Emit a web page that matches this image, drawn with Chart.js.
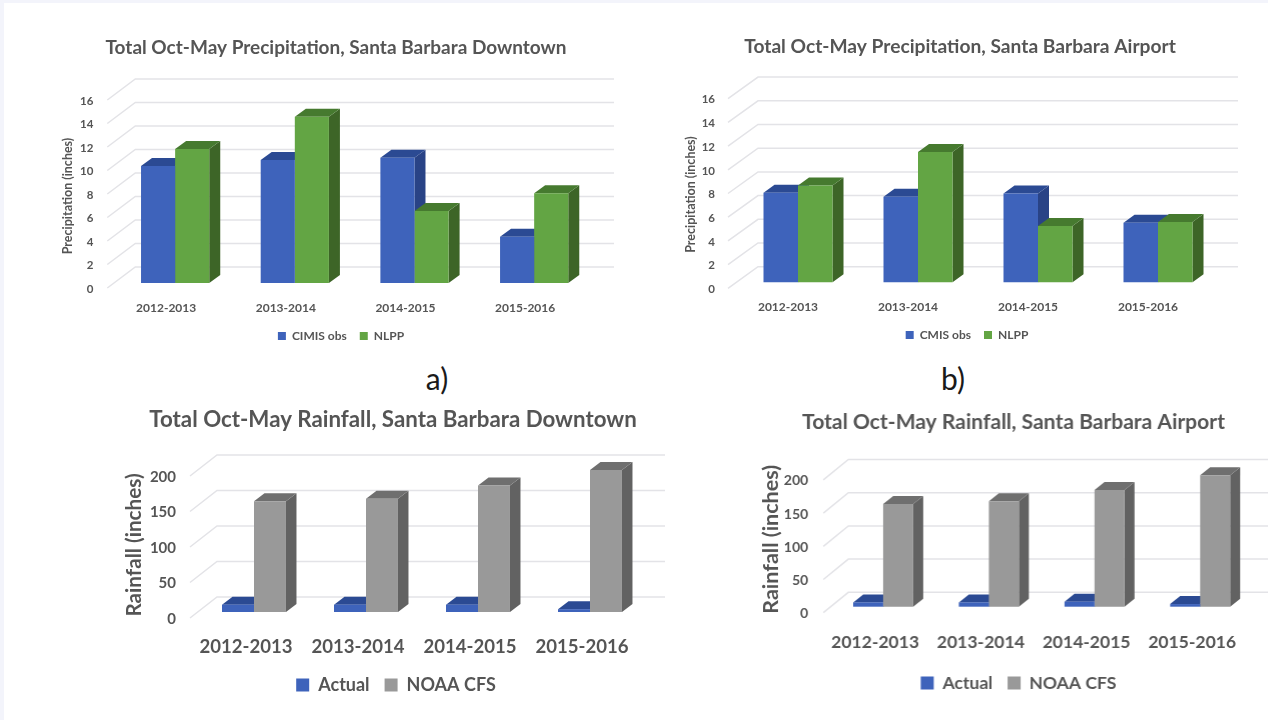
<!DOCTYPE html>
<html>
<head>
<meta charset="utf-8">
<title>Total Oct-May Precipitation and Rainfall, Santa Barbara</title>
<script src="https://cdn.jsdelivr.net/npm/chart.js@4"></script>
<style>
  html, body { margin: 0; padding: 0; width: 1268px; height: 720px; overflow: hidden; background: #f3f4fb; }
  #sheet { position: absolute; left: 4px; top: 3px; width: 1264px; height: 717px; background: #fff; }
  canvas { position: absolute; filter: blur(0.45px); }
  .tag { position: absolute; font: 30px Lato, sans-serif; color: #1a1a1a; transform: translate(-50%, -50%); }
</style>
</head>
<body>
<div id="sheet"></div>
<span class="tag" style="left:437px;top:378px">a)</span>
<span class="tag" style="left:953px;top:378px">b)</span>
<script>
// Temporadas (eje x de las cuatro gráficas)
const seasons = ['2012-2013', '2013-2014', '2014-2015', '2015-2016'];

// a) precipitación, Downtown
const downtownObs  = [9.96, 10.47, 10.66, 3.94];
const downtownNlpp = [11.4, 14.15, 6.13, 7.63];
// b) precipitación, Airport
const airportObs  = [7.56, 7.22, 7.5, 5.03];
const airportNlpp = [8.16, 11.0, 4.75, 5.09];
// c) lluvia, Downtown
const downtownActual = [10.3, 10.3, 10.3, 4];
const downtownCfs    = [156, 159.6, 178, 200];
// d) lluvia, Airport
const airportActual = [6.5, 6.5, 7.5, 4];
const airportCfs    = [154.6, 158.7, 175.7, 198];

const INK = '#555555';
const GRID = '#e3e3e7';
const BLUE  = { front: '#3e63bb', top: '#2b4a93', side: '#294386' };
const GREEN = { front: '#63a544', top: '#467a2f', side: '#3d6527' };
const GRAY  = { front: '#999999', top: '#6f6f6f', side: '#626262' };

// Caras superior y lateral de las barras + pared del fondo
const box3d = {
  id: 'box3d',
  afterLayout(chart) {
    const g = chart.options.plugins.box3d;
    const cv = chart.canvas.offsetLeft, ct = chart.canvas.offsetTop;
    const t = chart.titleBlock;
    t.left = g.titleAt[0] - cv - chart.width; t.right = g.titleAt[0] - cv + chart.width;
    t.top = g.titleAt[1] - ct - g.titleFont * 0.6;
    const l = chart.legend;
    l.left = g.legendAt[0] - cv - chart.width; l.right = g.legendAt[0] - cv + chart.width;
    l.top = g.legendAt[1] - ct - g.legendPad - g.legendFont / 2;
    const ys = chart.scales.y;
    ys.top += g.axisTitleShift; ys.bottom += g.axisTitleShift;
  },
  beforeDatasetsDraw(chart) {
    const g = chart.options.plugins.box3d;
    const { ctx, chartArea: area } = chart;
    const ys = chart.scales.y;
    ctx.save();
    ctx.strokeStyle = GRID;
    ctx.lineWidth = 1.5;
    ys.ticks.forEach((tick) => {
      const y = ys.getPixelForValue(tick.value);
      ctx.beginPath();
      ctx.moveTo(area.left - g.front[0], y + g.front[1]);
      ctx.lineTo(area.left + g.wall[0], y + g.wall[1]);
      ctx.lineTo(area.right + g.wall[0], y + g.wall[1]);
      ctx.stroke();
    });
    chart.data.datasets.forEach((ds, di) => {
      const c = g.colors[di];
      chart.getDatasetMeta(di).data.forEach((bar) => {
        const l = bar.x - bar.width / 2, r = bar.x + bar.width / 2;
        const top = bar.y, base = bar.base;
        const [dx, dy] = g.depth;
        ctx.fillStyle = c.side;
        ctx.beginPath();
        ctx.moveTo(r, top); ctx.lineTo(r + dx, top + dy);
        ctx.lineTo(r + dx, base + dy); ctx.lineTo(r, base);
        ctx.fill();
        ctx.fillStyle = c.top;
        ctx.beginPath();
        ctx.moveTo(l, top); ctx.lineTo(l + dx, top + dy);
        ctx.lineTo(r + dx, top + dy); ctx.lineTo(r, top);
        ctx.fill();
      });
    });
    ctx.restore();
  }
};

function crearGrafica(o) {
  const cv = document.createElement('canvas');
  const canvasRight = o.area.right + o.wall[0] + 2;
  const w = canvasRight - o.canvasX;
  const h = o.canvasBottom - o.canvasY;
  cv.style.left = o.canvasX + 'px';
  cv.style.top = o.canvasY + 'px';
  cv.style.width = w + 'px';
  cv.style.height = h + 'px';
  cv.width = w; cv.height = h;
  document.body.appendChild(cv);

  const legendH = o.legendFont + o.legendPad + 10;
  const font = (size) => ({ family: 'Lato', size, weight: 'bold' });

  new Chart(cv, {
    type: 'bar',
    data: {
      labels: seasons,
      datasets: [
        { label: o.names[0], data: o.series[0], backgroundColor: o.colors[0].front, borderWidth: 0, clip: false },
        { label: o.names[1], data: o.series[1], backgroundColor: o.colors[1].front, borderWidth: 0, clip: false }
      ]
    },
    options: {
      responsive: false,
      animation: false,
      events: [],
      layout: { padding: { left: 0, top: 0, bottom: 0, right: canvasRight - o.area.right } },
      datasets: { bar: { categoryPercentage: o.barShare, barPercentage: 1 } },
      scales: {
        x: {
          grid: { display: false, drawTicks: false },
          border: { display: false },
          afterFit: (s) => { s.height = o.canvasBottom - o.area.bottom - legendH; },
          ticks: {
            autoSkip: false, maxRotation: 0, color: INK, font: font(o.xFont),
            padding: o.xPad, labelOffset: o.xShift
          }
        },
        y: {
          min: 0, max: o.yMax,
          grid: { display: false, drawTicks: false },
          border: { display: false },
          afterFit: (s) => { s.width = o.area.left - o.canvasX; },
          title: { display: true, text: o.yTitle, color: INK, font: font(o.yTitleFont), padding: 0 },
          ticks: {
            stepSize: o.yStep, color: INK, font: font(o.yFont),
            padding: o.yPad, labelOffset: o.front[1] + 1
          }
        }
      },
      plugins: {
        title: {
          display: true, text: o.title, color: INK, font: font(o.titleFont),
          padding: { top: 0, bottom: o.area.top - o.canvasY - o.titleFont * 1.2 }
        },
        legend: {
          position: 'bottom',
          labels: {
            color: INK, font: font(o.legendFont), boxWidth: o.legendBox, boxHeight: o.legendBox,
            padding: o.legendPad
          }
        },
        tooltip: { enabled: false },
        box3d: {
          front: o.front, wall: o.wall, depth: o.depth, colors: o.colors,
          titleAt: o.titleAt, titleFont: o.titleFont,
          legendAt: o.legendAt, legendFont: o.legendFont, legendPad: o.legendPad,
          axisTitleShift: o.axisTitleShift
        }
      }
    },
    plugins: [box3d]
  });
}

crearGrafica({
  title: 'Total Oct-May Precipitation, Santa Barbara Downtown', titleFont: 19, titleAt: [336, 48],
  names: ['CIMIS obs', 'NLPP'], series: [downtownObs, downtownNlpp], colors: [BLUE, GREEN],
  yTitle: 'Precipitation (inches)', yMax: 16, yStep: 2,
  canvasX: 60, canvasY: 32, canvasBottom: 362,
  area: { left: 115.3, right: 594, top: 95, bottom: 283 },
  front: [8, 5], wall: [20, -16], depth: [11, -8], barShare: 0.57,
  xFont: 12, xPad: 18, xShift: -9, yFont: 11.5, yPad: 22, yTitleFont: 12.5, axisTitleShift: 7,
  legendAt: [341, 336], legendFont: 12, legendBox: 8, legendPad: 13
});

crearGrafica({
  title: 'Total Oct-May Precipitation, Santa Barbara Airport', titleFont: 19.2, titleAt: [960, 47],
  names: ['CMIS obs', 'NLPP'], series: [airportObs, airportNlpp], colors: [BLUE, GREEN],
  yTitle: 'Precipitation (inches)', yMax: 16, yStep: 2,
  canvasX: 683, canvasY: 32, canvasBottom: 362,
  area: { left: 738, right: 1218, top: 92.7, bottom: 282.3 },
  front: [10, 6], wall: [20, -15.6], depth: [11, -8], barShare: 0.575,
  xFont: 12, xPad: 18, xShift: -10, yFont: 11.5, yPad: 23, yTitleFont: 12.5, axisTitleShift: 7,
  legendAt: [967, 335], legendFont: 12, legendBox: 8, legendPad: 13
});

crearGrafica({
  title: 'Total Oct-May Rainfall, Santa Barbara Downtown', titleFont: 22.3, titleAt: [393, 420],
  names: ['Actual', 'NOAA CFS'], series: [downtownActual, downtownCfs], colors: [BLUE, GRAY],
  yTitle: 'Rainfall (inches)', yMax: 200, yStep: 50,
  canvasX: 122, canvasY: 405, canvasBottom: 715,
  area: { left: 198, right: 646, top: 470, bottom: 612 },
  front: [8, 6], wall: [19, -15], depth: [10.5, -8], barShare: 0.571,
  xFont: 18.6, xPad: 24, xShift: -8, yFont: 15, yPad: 22, yTitleFont: 20.7, axisTitleShift: 4,
  legendAt: [396, 685], legendFont: 18, legendBox: 13, legendPad: 15
});

crearGrafica({
  title: 'Total Oct-May Rainfall, Santa Barbara Airport', titleFont: 21, titleAt: [1013, 422],
  names: ['Actual', 'NOAA CFS'], series: [airportActual, airportCfs], colors: [BLUE, GRAY],
  yTitle: 'Rainfall (inches)', yMax: 200, yStep: 50,
  canvasX: 758, canvasY: 405, canvasBottom: 715,
  area: { left: 830.2, right: 1252.6, top: 473.9, bottom: 606.7 },
  front: [7, 6], wall: [18, -14.4], depth: [10, -8], barShare: 0.568,
  xFont: 17.5, xPad: 25, xShift: -8, yFont: 14, yPad: 22, yTitleFont: 21.5, axisTitleShift: -1,
  legendAt: [1018, 683], legendFont: 17.5, legendBox: 13, legendPad: 15
});
</script>
</body>
</html>
